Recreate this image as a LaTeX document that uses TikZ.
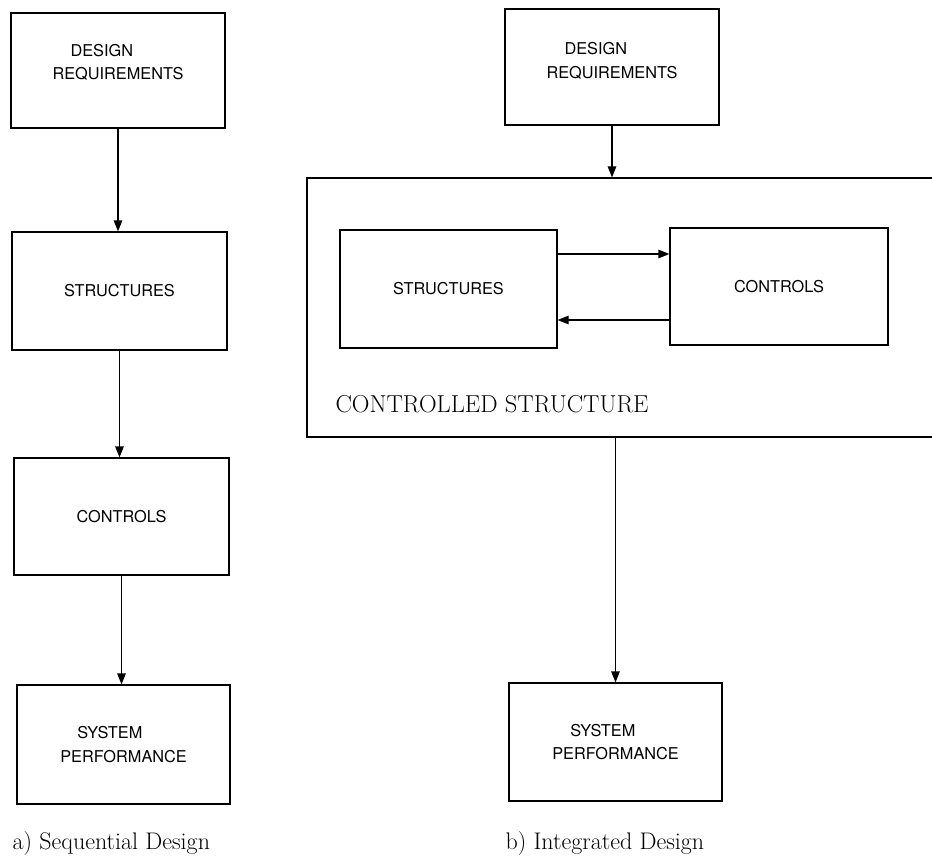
\documentclass[tikz,border=0pt]{standalone}
\usepackage{fontspec}
\setsansfont{TeX Gyre Heros}
\usetikzlibrary{arrows.meta, positioning}

\begin{document}
\begin{tikzpicture}[
        x=1pt, y=-1pt,
        line width=1.2pt,
        blockbox/.style={draw=black, line width=1.2pt, inner sep=0pt, align=left, font=\sffamily\fontsize{16.3}{23.5}\selectfont},
        flow/.style={-{Triangle[length=11pt, width=8.5pt]}, line width=1.2pt},
        captiontext/.style={anchor=base west, inner sep=0pt, font=\fontsize{24}{28}\selectfont}
    ]
        \useasboundingbox (0, 0) rectangle (932, 857);
        % Sequential design
        \node[blockbox, minimum width=214pt, minimum height=115pt, text depth=17pt] (reqa) at (118, 70.5) {\hspace*{18pt}DESIGN\\REQUIREMENTS};
        \node[blockbox, minimum width=215pt, minimum height=118pt] (structa) at (119.5, 291) {STRUCTURES};
        \node[blockbox, minimum width=215pt, minimum height=117pt] (contra) at (121.5, 516.5) {CONTROLS};
        \node[blockbox, minimum width=213pt, minimum height=119pt] (perfa) at (123.5, 744.5) {\hspace*{17pt}SYSTEM\\PERFORMANCE};
        \draw[flow] (reqa.south) -- (reqa.south |- structa.north);
        \draw[flow] (structa.south) -- (structa.south |- contra.north);
        \draw[flow] (contra.south) -- (contra.south |- perfa.north);
        \node[captiontext] (capa) at (12, 849) {a) Sequential Design};
        % Integrated design
        \node[blockbox, minimum width=214pt, minimum height=116pt, text depth=13pt] (reqb) at (612, 67) {\hspace*{18pt}DESIGN\\REQUIREMENTS};
        \node[draw=black, line width=1.2pt, minimum width=653pt, minimum height=259pt, inner sep=0pt] (ctrlstruct) at (633.5, 307.5) {};
        \node[blockbox, minimum width=217pt, minimum height=118pt] (structb) at (448.5, 289) {STRUCTURES};
        \node[blockbox, minimum width=218pt, minimum height=117pt] (contrb) at (779, 286.5) {CONTROLS};
        \node[captiontext, font=\fontsize{24.5}{28}\selectfont] (ctrllabel) at (335, 412) {CONTROLLED STRUCTURE};
        \node[blockbox, minimum width=213pt, minimum height=118pt] (perfb) at (615.5, 742) {\hspace*{18pt}SYSTEM\\PERFORMANCE};
        \coordinate (fwd) at ([yshift=35pt]structb.east);
        \coordinate (back) at ([yshift=-33.5pt]contrb.west);
        \draw[flow] (reqb.south) -- (reqb.south |- ctrlstruct.north);
        \draw[flow] (fwd) -- (fwd -| contrb.west);
        \draw[flow] (back) -- (back -| structb.east);
        \draw[flow] (ctrlstruct.south -| perfb.north) -- (perfb.north);
        \node[captiontext] (capb) at (505, 849) {b) Integrated Design};
\end{tikzpicture}
\end{document}
